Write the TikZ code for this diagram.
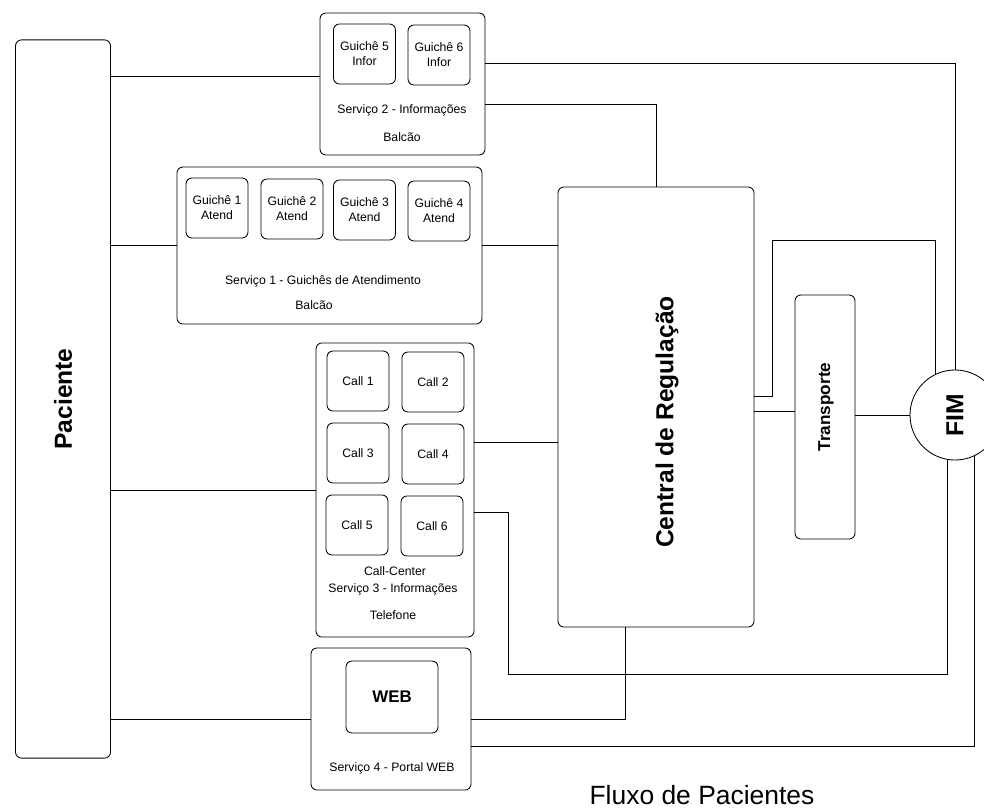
\documentclass[tikz,border=0pt]{standalone}
\usepackage{fontspec}
\setmainfont{Liberation Sans}
\usetikzlibrary{positioning}

\begin{document}
\begin{tikzpicture}[
        x=0.025cm, y=-0.025cm,
        line width=0.6pt,
        box/.style={rectangle, draw=black, line width=0.6pt, rounded corners=0.15cm, inner sep=0pt},
        desk/.style={rectangle, draw=black, line width=0.6pt, rounded corners=0.15cm, minimum width=1.55cm, minimum height=1.5cm, align=center, inner sep=0pt, font=\fontsize{8.7}{10.6}\selectfont},
        txt/.style={inner sep=0pt, font=\fontsize{8.7}{10.6}\selectfont},
        big/.style={inner sep=0pt, rotate=90, font=\fontsize{17.5}{20}\bfseries\selectfont}
    ]
    \useasboundingbox (0,0) rectangle (984,808);

    % Paciente
    \node[box, minimum width=2.375cm, minimum height=17.95cm] (pac) at (63,399) {};
    \node[big] (paclbl) at (pac.center) {Paciente};

    % Servico 2 - Informacoes
    \node[box, minimum width=4.125cm, minimum height=3.55cm] (srvinfo) at (402.5,84) {};
    \node[desk] (g5) at (364.5,54) {Guichê 5\\Infor};
    \node[desk] (g6) at (439,55) {Guichê 6\\Infor};
    \node[txt] (srvinfotxt) at (402,110) {Serviço 2 - Informações};
    \node[txt] (srvinfobal) at (402,137) {Balcão};

    % Servico 1 - Guiches
    \node[box, minimum width=7.625cm, minimum height=3.925cm] (srvatend) at (329.5,245.5) {};
    \node[desk] (g1) at (217,208) {Guichê 1\\Atend};
    \node[desk] (g2) at (292,209) {Guichê 2\\Atend};
    \node[desk] (g3) at (364.5,210) {Guichê 3\\Atend};
    \node[desk] (g4) at (439,211) {Guichê 4\\Atend};
    \node[txt] (srvatendtxt) at (323,281) {Serviço 1 - Guichês de Atendimento};
    \node[txt] (srvatendbal) at (314,305) {Balcão};

    % Servico 3 - Call-Center
    \node[box, minimum width=3.95cm, minimum height=7.35cm] (callc) at (395,490) {};
    \node[desk] (call1) at (358,381) {Call 1};
    \node[desk] (call2) at (433,382) {Call 2};
    \node[desk] (call3) at (358,453) {Call 3};
    \node[desk] (call4) at (433,454) {Call 4};
    \node[desk] (call5) at (357,525) {Call 5};
    \node[desk] (call6) at (432,526) {Call 6};
    \node[txt] (callctxt) at (395,571) {Call-Center};
    \node[txt] (callcsrv) at (393,589) {Serviço 3 - Informações};
    \node[txt] (callctel) at (393,615) {Telefone};

    % Servico 4 - Portal WEB
    \node[box, minimum width=4cm, minimum height=3.55cm] (portal) at (391,719) {};
    \node[box, minimum width=2.3cm, minimum height=1.8cm, font=\fontsize{12}{14}\bfseries\selectfont] (web) at (392,697) {WEB};
    \node[txt] (portaltxt) at (392,768) {Serviço 4 - Portal WEB};

    % Central, Transporte, FIM
    \node[box, minimum width=4.9cm, minimum height=11cm] (central) at (656,407) {};
    \node[big] (centrallbl) at (667,422) {Central de Regulação};
    \node[box, minimum width=1.5cm, minimum height=6.1cm] (transp) at (825,417) {};
    \node[big, font=\fontsize{12.2}{14}\bfseries\selectfont] (transplbl) at (826,407) {Transporte};
    \node[circle, draw=black, line width=0.6pt, minimum size=2.25cm, inner sep=0pt] (fim) at (955,415) {};
    \node[big] (fimlbl) at (fim.center) {FIM};

    \node[inner sep=0pt, font=\fontsize{18.8}{22}\selectfont] (titulo) at (702,795) {Fluxo de Pacientes};

    % Connections
    \draw (srvinfo.175) -- (srvinfo.175 -| pac.east);
    \draw (srvatend.west) -- (srvatend.west -| pac.east);
    \draw (callc.west) -- (callc.west -| pac.east);
    \draw (portal.west) -- (portal.west -| pac.east);

    \draw (srvinfo.14) -| (fim.north);
    \draw (srvinfo.-14) -| (central.north);
    \draw (srvatend.east) -- (srvatend.east -| central.west);
    \draw (central.6) -- ++(18,0) -- ++(0,-156) -| (fim.115);
    \draw (callc.31) -- (callc.31 -| central.west);
    \draw (callc.-16) -- ++(34,0) -- ++(0,162) -| (fim.260);
    \draw (portal.east) -| (central.-98);
    \draw (portal.-19) -| (fim.295);

    \draw (transp.170) -- (transp.170 -| central.east);
    \draw (fim.west) -- (fim.west -| transp.east);

\end{tikzpicture}
\end{document}
